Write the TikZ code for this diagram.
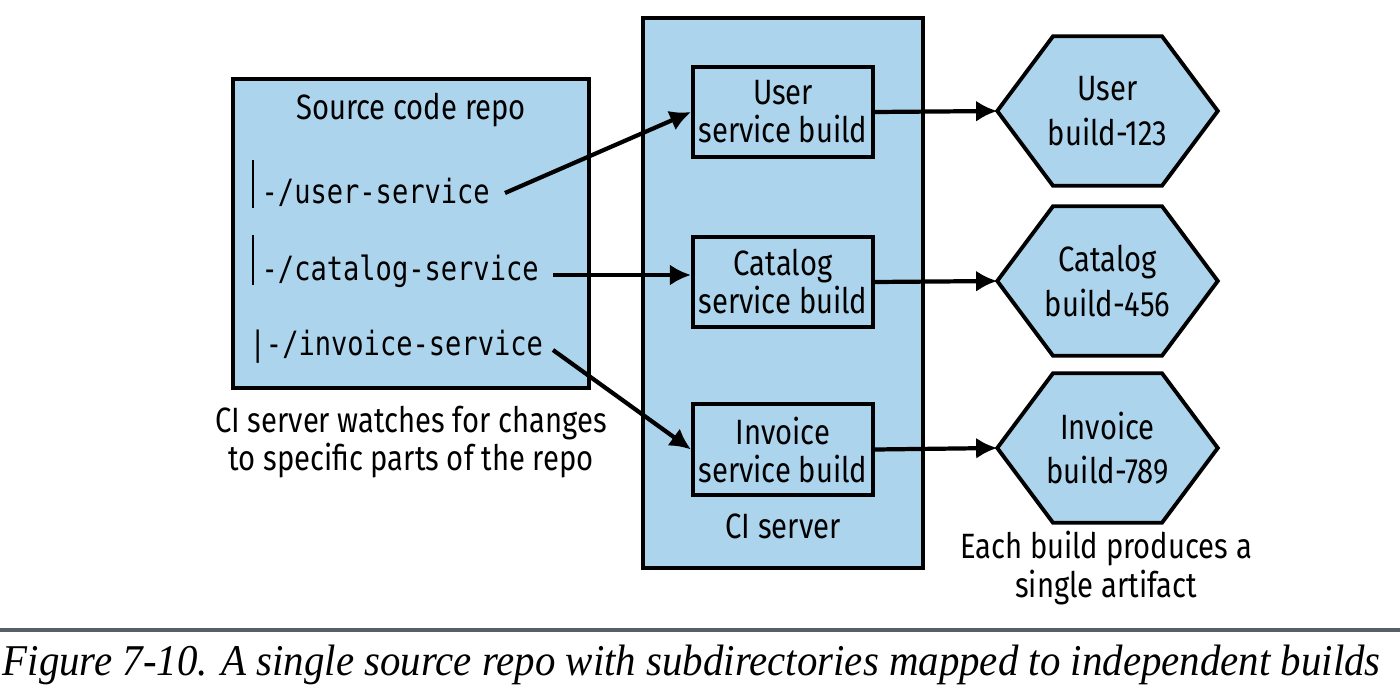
\documentclass[tikz,border=0pt]{standalone}
\usepackage{fontspec}
\setmainfont[FakeStretch=0.83]{Fira Sans}
\newfontfamily\monof[FakeStretch=0.81]{DejaVu Sans Mono}
\newfontfamily\capf[FakeStretch=0.93]{Liberation Serif}
\usetikzlibrary{arrows.meta,backgrounds,calc}
\definecolor{boxblue}{RGB}{172,212,236}
\definecolor{rulegray}{RGB}{88,94,102}
\begin{document}
\begin{tikzpicture}[x=0.01cm,y=-0.01cm,
  box/.style={draw=black, fill=boxblue, line width=1.1pt, inner sep=0pt},
  lbl/.style={align=center, font=\fontsize{10}{10.8}\selectfont, inner sep=0pt},
  code/.style={anchor=base west, inner sep=0pt, font=\monof\fontsize{9.5}{11}\selectfont},
  conn/.style={line width=1.2pt, -{Latex[length=6pt,width=6pt]}},
  hexnode/.style={minimum width=2.19cm, minimum height=1.48cm, inner sep=0pt, align=center, font=\fontsize{10}{12.6}\selectfont},
  hexline/.style={draw=black, fill=boxblue, line width=1.1pt, line join=miter},
  bar/.style={line width=0.7pt}
]
\useasboundingbox (0,0) rectangle (1400,700);

% source repo
\node[box, minimum width=3.55cm, minimum height=3.09cm] (repo) at (411,233.5) {};
\node[lbl] (repot) at (411,110) {Source code repo};
\coordinate (b1t) at (253,160); \coordinate (b1b) at (253,208);
\coordinate (b2t) at (253,235); \coordinate (b2b) at (253,285);
\draw[bar] (b1t) -- (b1b);
\draw[bar] (b2t) -- (b2b);
\node[code] (c1) at (261,203) {-/user-service};
\node[code] (c2) at (261,280) {-/catalog-service};
\node[code] (c3) at (249,355) {|-/invoice-service};

% CI server
\node[box, minimum width=2.8cm, minimum height=5.5cm] (ci) at (783,293) {};
\node[box, lbl, minimum width=1.8cm, minimum height=0.9cm] (ub) at (783,112) {User\\service build};
\node[box, lbl, minimum width=1.8cm, minimum height=0.9cm] (cb) at (783,282) {Catalog\\service build};
\node[box, lbl, minimum width=1.8cm, minimum height=0.91cm] (ib) at (783,449.5) {Invoice\\service build};
\node[lbl] (cilbl) at (783,526) {CI server};

% hexagons
\node[hexnode] (hu) at (1107.5,111) {User\\build-123};
\node[hexnode] (hc) at (1107.5,281) {Catalog\\build-456};
\node[hexnode] (hi) at (1107.5,448) {Invoice\\build-789};
\begin{scope}[on background layer]
\foreach \n in {hu,hc,hi}
  \draw[hexline] (\n.west) -- ($(\n.north)+(-54.5,0)$) -- ($(\n.north)+(54.5,0)$) -- (\n.east)
    -- ($(\n.south)+(54.5,0)$) -- ($(\n.south)+(-54.5,0)$) -- cycle;
\end{scope}

% connectors
\coordinate (us) at (505,193);
\coordinate (cs) at (553,275);
\coordinate (is) at (553,350);
\draw[conn] (us) -- (ub.west);
\draw[conn] (cs) -- (cs -| cb.west);
\draw[conn] (is) -- (ib.west);
\draw[conn] (ub.east) -- (hu.west);
\draw[conn] (cb.east) -- (hc.west);
\draw[conn] (ib.east) -- (hi.west);

% notes
\node[lbl, font=\fontsize{10}{9.8}\selectfont] (note1) at (411,442) {CI server watches for changes\\to specific parts of the repo};
\node[lbl, font=\fontsize{10}{9.6}\selectfont] (note2) at (1106,568) {Each build produces a\\single artifact};

% rule and caption
\coordinate (rl) at (0,630); \coordinate (rr) at (1400,630);
\draw[rulegray, line width=0.9pt] (rl) -- (rr);
\node[anchor=base west, inner sep=0pt, font=\capf\itshape\fontsize{12.5}{14}\selectfont] (cap) at (2,675) {Figure 7-10. A single source repo with subdirectories mapped to independent builds};
\end{tikzpicture}
\end{document}
